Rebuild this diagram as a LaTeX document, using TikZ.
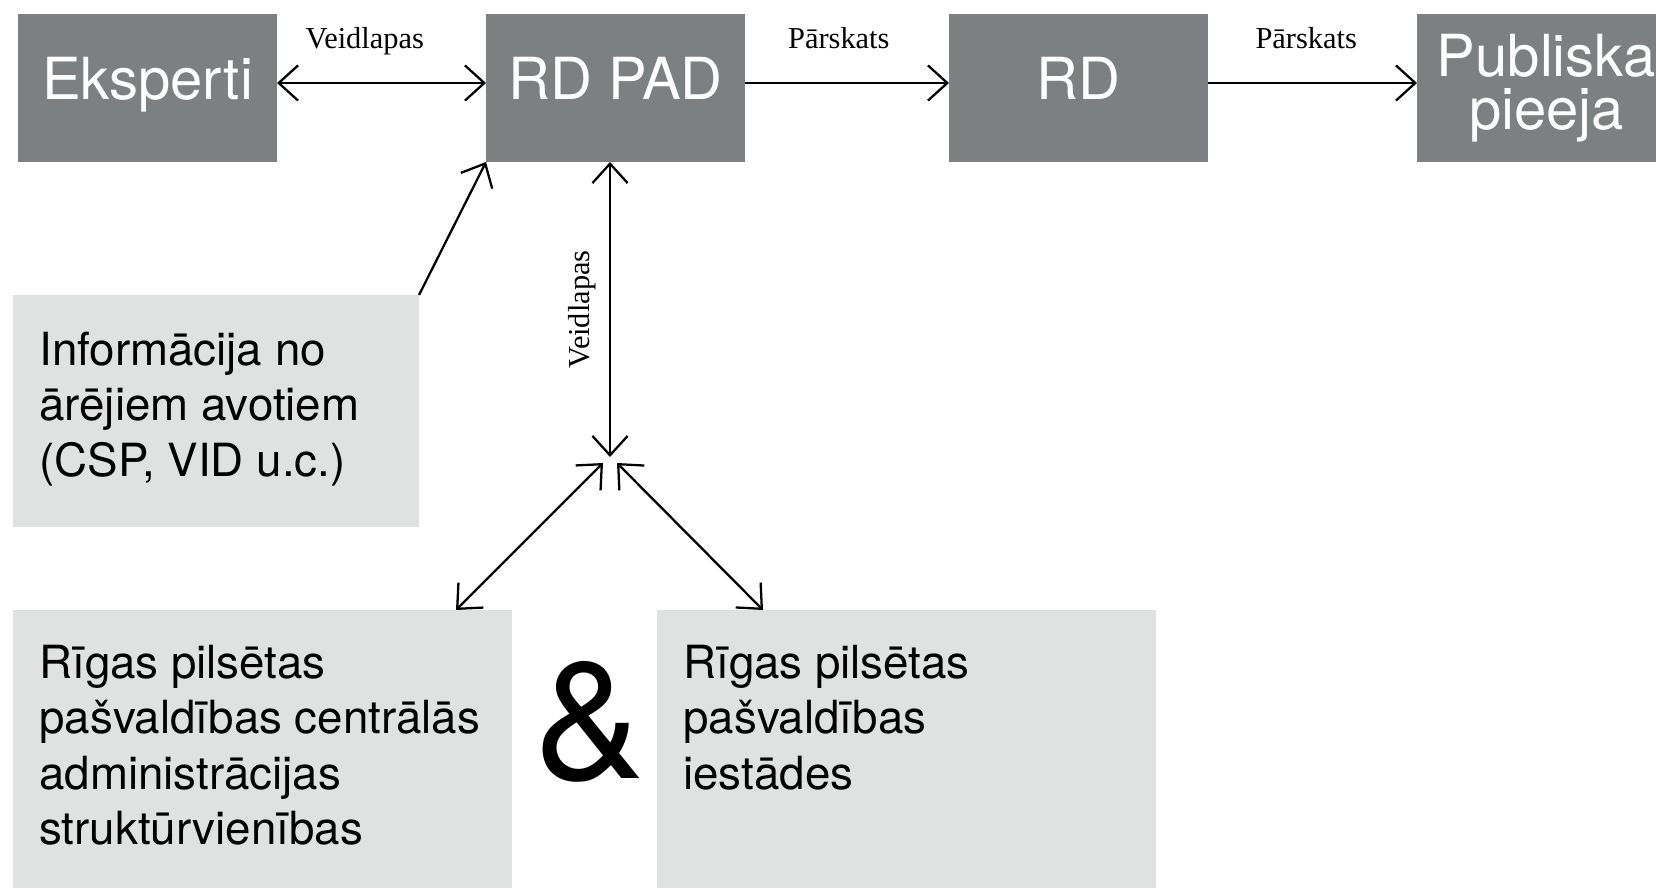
\documentclass[tikz,border=0pt]{standalone}
\usepackage{fontspec}
\setmainfont{Liberation Serif}
\setsansfont{TeX Gyre Heros}
\usepackage{xcolor}
\usepackage{tikz}
\usetikzlibrary{arrows.meta,calc,positioning}
\definecolor{boxdark}{RGB}{125,128,128}
\definecolor{boxlight}{RGB}{224,225,225}
\tikzstyle{darkbox}=[rectangle, fill=boxdark, text=white, align=center,
  font=\sffamily\fontsize{33}{30}\selectfont, inner sep=0pt, outer sep=0pt,
  minimum width=5.18cm, minimum height=2.96cm]
\tikzstyle{oneline}=[text height=21pt, text depth=8pt]
\tikzstyle{litebox}=[rectangle, fill=boxlight, inner sep=0pt, outer sep=0pt, anchor=north west]
\tikzstyle{boxtext}=[anchor=north west, inner sep=0pt, align=left,
  font=\sffamily\fontsize{26}{31.4}\selectfont]
\tikzstyle{flow}=[line width=1.3pt, >={Straight Barb[length=11pt,width=20pt]}]
\tikzstyle{flowlabel}=[font=\fontsize{17.3}{20}\selectfont, inner sep=0pt, text depth=4pt]

\begin{document}
\begin{tikzpicture}
  \useasboundingbox (0,0) rectangle (33.12,-17.76);
  % top row
  \node[darkbox, oneline] (eksp) at (2.95,-1.76) {Eksperti};
  \node[darkbox, oneline, right=4.18cm of eksp] (rdpad) {RD PAD};
  \node[darkbox, oneline, right=4.08cm of rdpad] (rd) {RD};
  \node[darkbox, right=4.18cm of rd] (publ) {Publiska\\pieeja};
  \draw[flow, <->] ([yshift=0.1cm]eksp.east) --
    node[flowlabel, pos=0.42, above=15pt] {Veidlapas} ([yshift=0.1cm]rdpad.west);
  \draw[flow, ->] ([yshift=0.1cm]rdpad.east) --
    node[flowlabel, pos=0.46, above=15pt] {Pārskats} ([yshift=0.1cm]rd.west);
  \draw[flow, ->] ([yshift=0.1cm]rd.east) --
    node[flowlabel, pos=0.47, above=15pt] {Pārskats} ([yshift=0.1cm]publ.west);
  % external sources
  \node[litebox, minimum width=8.12cm, minimum height=4.64cm] (info) at (0.26,-5.9) {};
  \node[boxtext] (infotxt) at ($(info.north west)+(0.52,-0.74)$)
    {Informācija no\\ārējiem avotiem\\(CSP, VID u.c.)};
  \draw[flow, ->] (info.north east) -- (rdpad.south west);
  % municipality
  \node[litebox, minimum width=9.98cm, minimum height=5.9cm] (cent) at (0.26,-12.2) {};
  \node[boxtext] (centtxt) at ($(cent.north west)+(0.52,-0.7)$)
    {Rīgas pilsētas\\pašvaldības centrālās\\administrācijas\\struktūrvienības};
  \node[litebox, minimum width=9.98cm, minimum height=5.9cm] (inst) at (13.14,-12.2) {};
  \node[boxtext] (insttxt) at ($(inst.north west)+(0.52,-0.7)$)
    {Rīgas pilsētas\\pašvaldības\\iestādes};
  \node[font=\sffamily\fontsize{94}{94}\selectfont, inner sep=0pt] (amp) at (11.8,-14.44) {\&};
  % junction
  \coordinate (hub) at (12.2,-9.14);
  \coordinate (hubl) at ($(hub)+(-0.14,-0.12)$);
  \coordinate (hubr) at ($(hub)+(0.14,-0.12)$);
  \draw[flow, <->] (rdpad.south -| hub) --
    node[flowlabel, midway, rotate=90, anchor=south, yshift=7pt] {Veidlapas} (hub);
  \draw[flow, <->] (hubl) -- ($(cent.north east)+(-1.12,0)$);
  \draw[flow, <->] (hubr) -- ($(inst.north west)+(2.12,0)$);
\end{tikzpicture}
\end{document}
